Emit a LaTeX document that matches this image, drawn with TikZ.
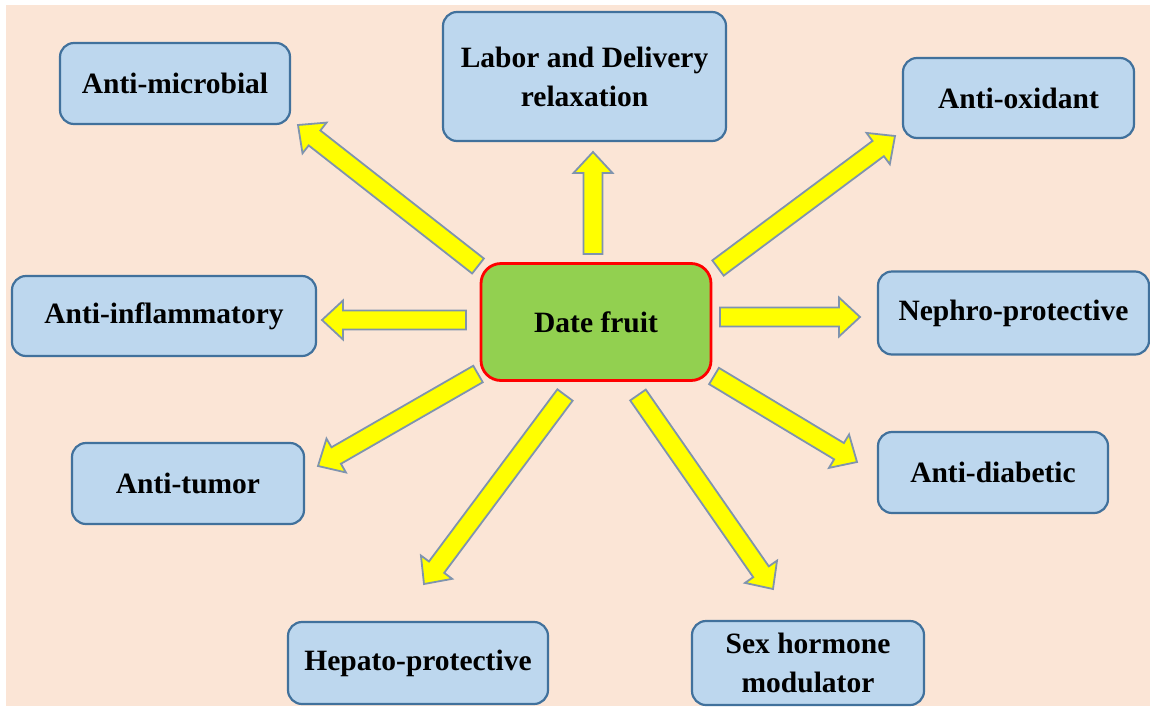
\documentclass[tikz,border=0pt]{standalone}
\usepackage{fontspec}
\setmainfont{Liberation Serif}
\usetikzlibrary{calc}
\definecolor{bgpeach}{HTML}{FBE5D6}
\definecolor{boxfill}{HTML}{BDD7EE}
\definecolor{boxedge}{HTML}{41719C}
\definecolor{datefill}{HTML}{92D050}
\definecolor{arrowfill}{HTML}{FFFF00}
\definecolor{arrowedge}{HTML}{7F94AE}
\tikzset{
  effect/.style={draw=boxedge, fill=boxfill, line width=2.2pt, rounded corners=14pt,
    inner sep=0pt, align=center, font=\fontsize{29.5}{39}\selectfont\bfseries},
  centerbox/.style={draw=red, fill=datefill, line width=2.8pt, rounded corners=20pt,
    inner sep=0pt, align=center, font=\fontsize{29.5}{39}\selectfont\bfseries},
  barrow/.style={draw=arrowedge, fill=arrowfill, line width=1.8pt, line join=miter},
}
\newcommand\blockarrow[2]{%
  \coordinate (hb) at ($(#2)!21pt!(#1)$);
  \draw[barrow] ($(#1)!9.5pt!90:(#2)$) -- ($(hb)!9.5pt!90:(#2)$) -- ($(hb)!19.5pt!90:(#2)$)
    -- (#2) -- ($(hb)!19.5pt!-90:(#2)$) -- ($(hb)!9.5pt!-90:(#2)$) -- ($(#1)!9.5pt!-90:(#2)$) -- cycle;}
\begin{document}
\begin{tikzpicture}[x=1pt,y=-1pt]
\useasboundingbox (0,0) rectangle (1150,707);
\fill[white] (0,0) rectangle (1150,707);
\fill[bgpeach] (6,5) rectangle (1150,706);

\node[centerbox, minimum width=230pt, minimum height=117pt] (date) at (596,322) {Date fruit};

\node[effect, minimum width=230pt, minimum height=81pt] (am) at (175,83.5) {Anti-microbial};
\node[effect, minimum width=283pt, minimum height=129pt] (labor) at (584.5,76.5) {Labor and Delivery\\relaxation};
\node[effect, minimum width=231pt, minimum height=80pt] (ox) at (1018.5,98) {Anti-oxidant};
\node[effect, minimum width=304pt, minimum height=80pt] (infl) at (164,316) {Anti-inflammatory};
\node[effect, minimum width=271pt, minimum height=83pt] (neph) at (1013.5,313) {Nephro-protective};
\node[effect, minimum width=232pt, minimum height=81pt] (tumor) at (188,483.5) {Anti-tumor};
\node[effect, minimum width=230pt, minimum height=81pt] (diab) at (993,472.5) {Anti-diabetic};
\node[effect, minimum width=260pt, minimum height=82pt] (hep) at (418,663) {Hepato-protective};
\node[effect, minimum width=232pt, minimum height=84pt] (sex) at (808,663) {Sex hormone\\modulator};

% arrow tails and tips
\coordinate (t1) at (478,266);   \coordinate (p1) at (298,125);
\coordinate (t2) at (593,254);   \coordinate (p2) at (593,152);
\coordinate (t3) at (718,268);   \coordinate (p3) at (895,136);
\coordinate (t4) at (466,320);   \coordinate (p4) at (322,320);
\coordinate (t5) at (720,317);   \coordinate (p5) at (860,317);
\coordinate (t6) at (478,374);   \coordinate (p6) at (318,466);
\coordinate (t7) at (565,395);   \coordinate (p7) at (424,584);
\coordinate (t8) at (638,395);   \coordinate (p8) at (773,589);
\coordinate (t9) at (714,376);   \coordinate (p9) at (857,462);

\blockarrow{t1}{p1}
\blockarrow{t2}{p2}
\blockarrow{t3}{p3}
\blockarrow{t4}{p4}
\blockarrow{t5}{p5}
\blockarrow{t6}{p6}
\blockarrow{t7}{p7}
\blockarrow{t8}{p8}
\blockarrow{t9}{p9}
\end{tikzpicture}
\end{document}
